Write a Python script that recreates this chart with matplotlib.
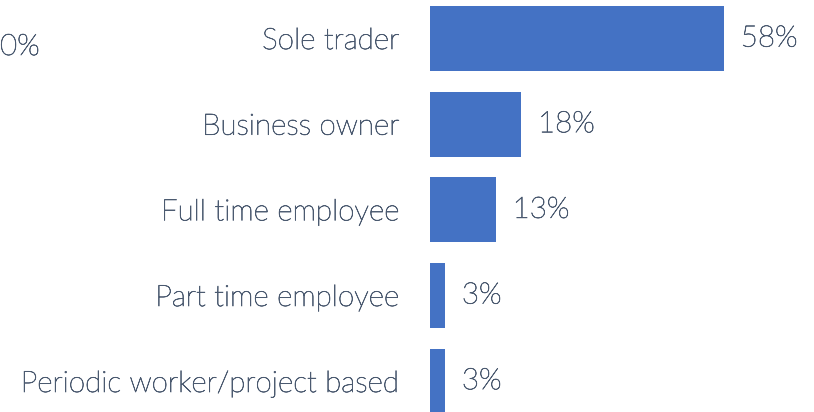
import matplotlib.pyplot as plt
import matplotlib.patheffects as pe

categories = ["Sole trader", "Business owner", "Full time employee",
              "Part time employee", "Periodic worker/project based"]
values = [58, 18, 13, 3, 3]

bar_color = "#4472C4"
text_color = "#4B5A70"
plt.rcParams['font.family'] = ['Lato', 'DejaVu Sans']

# the light Lato face is very thin here, so thicken it slightly
thick = [pe.withStroke(linewidth=0.5, foreground=text_color)]

fig = plt.figure(figsize=(8.14, 4.12), dpi=100)
ax = fig.add_axes([430 / 814, 0, 384 / 814, 1])

ypos = list(range(len(categories)))
ax.barh(ypos, values, height=0.76, color=bar_color)
ax.set_xlim(0, 384 / 5.07)
ax.set_ylim(4.36, -0.45)

ax.set_yticks(ypos)
ax.set_yticklabels(categories, fontsize=21.3, color=text_color, fontweight='light')
for t in ax.get_yticklabels():
    t.set_path_effects(thick)
ax.tick_params(axis='y', length=0, pad=22)
ax.set_xticks([])
for s in ax.spines.values():
    s.set_visible(False)

for y, v in zip(ypos, values):
    ax.annotate(f"{v}%", (v, y), xytext=(12, 0), textcoords='offset points',
                va='center', ha='left', fontsize=21.3, color=text_color,
                fontweight='light', path_effects=thick)

# fragment of a neighbouring label at the left edge
fig.text(0.0, 1 - 47 / 412, "0%", fontsize=21.3, color=text_color,
         fontweight='light', va='center', ha='left', path_effects=thick)

fig.savefig("out.png", dpi=100)
